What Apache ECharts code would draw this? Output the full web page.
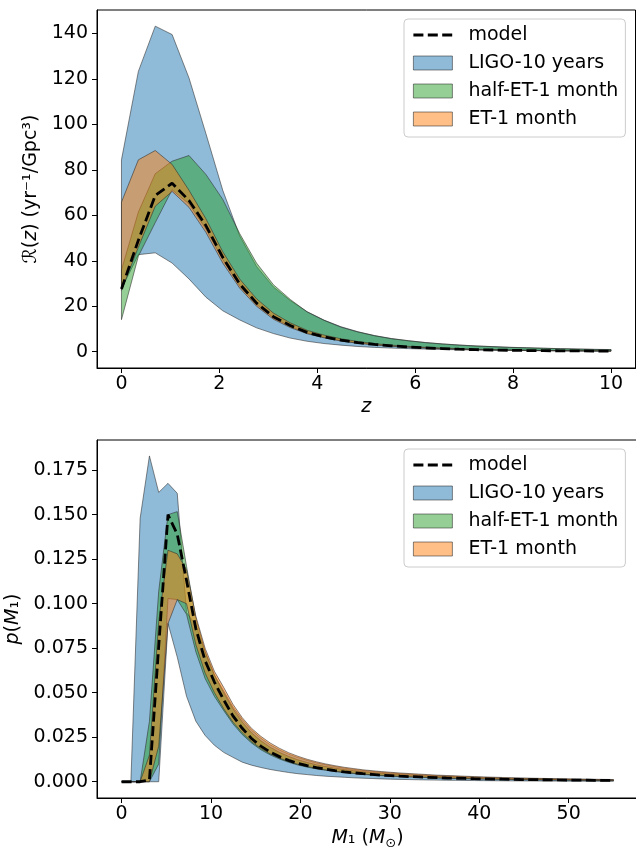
<!DOCTYPE html>
<html><head><meta charset="utf-8">
<script src="https://cdn.jsdelivr.net/npm/echarts@6/dist/echarts.min.js"></script>
<style>html,body{margin:0;padding:0;background:#fff}#c{width:636px;height:847px}</style>
</head><body><div id="c"></div>
<script>
// ---------- top panel: merger rate vs redshift ----------
const zGrid = [0, 0.345, 0.69, 1.034, 1.379, 1.724, 2.069, 2.414, 2.759, 3.103, 3.448, 3.793, 4.138, 4.483, 4.828, 5.172, 5.517, 5.862, 6.207, 6.552, 6.897, 7.241, 7.586, 7.931, 8.276, 8.621, 8.966, 9.31, 9.655, 10];
const rateModel = [27.6, 49, 68.7, 74.1, 66.5, 55.5, 41.5, 29.8, 21.4, 15.4, 11.5, 8.5, 6.6, 5.1, 4.0, 3.2, 2.6, 2.1, 1.7, 1.4, 1.1, 0.9, 0.75, 0.63, 0.54, 0.46, 0.4, 0.35, 0.3, 0.26];
const rateLigoHi = [84.4, 123.3, 143.2, 139.5, 120.4, 96, 71, 51, 37.5, 28.5, 22.5, 17.6, 13.9, 11, 8.8, 7.1, 5.8, 4.85, 4.05, 3.45, 2.95, 2.55, 2.25, 1.95, 1.75, 1.55, 1.35, 1.2, 1.05, 0.95];
const rateLigoLo = [27.6, 42.7, 43.5, 39, 32, 24, 18, 14, 10.5, 8, 6, 4.6, 3.6, 2.9, 2.3, 1.9, 1.6, 1.35, 1.15, 1.0, 0.85, 0.75, 0.65, 0.58, 0.5, 0.45, 0.4, 0.36, 0.32, 0.29];
const rateHalfHi = [36, 61.4, 78.3, 83.8, 86.3, 78, 67, 52, 39, 29.5, 23, 17.5, 13.8, 10.8, 8.7, 7.0, 5.7, 4.8, 4.0, 3.4, 2.9, 2.5, 2.2, 1.9, 1.7, 1.5, 1.3, 1.15, 1.0, 0.9];
const rateHalfLo = [14.1, 42, 56.8, 71.2, 65, 54, 40.5, 29, 20.8, 15, 11.1, 8.2, 6.3, 4.9, 3.85, 3.1, 2.5, 2.05, 1.7, 1.4, 1.15, 0.95, 0.8, 0.68, 0.58, 0.5, 0.43, 0.37, 0.32, 0.28];
const rateEtHi = [65.8, 84.4, 88.5, 82.4, 71, 58.5, 44, 32, 23.3, 17, 12.7, 9.4, 7.3, 5.7, 4.5, 3.55, 2.9, 2.35, 1.95, 1.63, 1.35, 1.12, 0.95, 0.8, 0.68, 0.58, 0.5, 0.44, 0.38, 0.33];
const rateEtLo = [27, 46, 64, 70.5, 63.5, 52.5, 39, 28, 20, 14.3, 10.6, 7.9, 6.1, 4.7, 3.7, 3.0, 2.4, 1.95, 1.6, 1.32, 1.08, 0.9, 0.76, 0.64, 0.55, 0.47, 0.41, 0.35, 0.3, 0.26];
const zTicks = [0, 2, 4, 6, 8, 10];
const rateTicks = [0, 20, 40, 60, 80, 100, 120, 140];

// ---------- bottom panel: primary mass distribution ----------
const mGrid = [0, 1.038, 2.075, 3.113, 4.151, 5.189, 6.226, 7.264, 8.302, 9.34, 10.377, 11.415, 12.453, 13.491, 14.528, 15.566, 16.604, 17.642, 18.679, 19.717, 20.755, 21.792, 22.83, 23.868, 24.906, 25.943, 26.981, 28.019, 29.057, 30.094, 31.132, 32.17, 33.208, 34.245, 35.283, 36.321, 37.358, 38.396, 39.434, 40.472, 41.509, 42.547, 43.585, 44.623, 45.66, 46.698, 47.736, 48.774, 49.811, 50.849, 51.887, 52.925, 53.962, 55];
const pModel = [0, 0, 0, 0.001, 0.076, 0.150, 0.139, 0.113, 0.086, 0.068, 0.056, 0.046, 0.037, 0.030, 0.0243, 0.0200, 0.0167, 0.0141, 0.0120, 0.0103, 0.0090, 0.0079, 0.0070, 0.0062, 0.0055, 0.0050, 0.0045, 0.0041, 0.0037, 0.0034, 0.0031, 0.0029, 0.0027, 0.0025, 0.0023, 0.0021, 0.00197, 0.00184, 0.00172, 0.00161, 0.00151, 0.00142, 0.00134, 0.00126, 0.00119, 0.00112, 0.00106, 0.001, 0.00095, 0.0009, 0.00085, 0.00081, 0.00077, 0.00073];
const pLigoHi = [0, 0, 0.148, 0.183, 0.1625, 0.1676, 0.162, 0.095, 0.088, 0.073, 0.060, 0.051, 0.042, 0.035, 0.029, 0.0245, 0.0208, 0.0179, 0.0155, 0.0136, 0.0120, 0.0106, 0.0095, 0.0085, 0.0076, 0.0069, 0.0063, 0.0058, 0.0053, 0.0049, 0.0045, 0.0042, 0.0039, 0.0036, 0.0034, 0.0032, 0.0030, 0.0028, 0.0026, 0.00245, 0.0023, 0.00215, 0.00203, 0.00191, 0.0018, 0.0017, 0.00161, 0.00152, 0.00144, 0.00137, 0.0013, 0.00123, 0.00117, 0.00111];
const pLigoLo = [0, 0, 0, 0, 0, 0.089, 0.070, 0.048, 0.034, 0.026, 0.0205, 0.0165, 0.0137, 0.011, 0.0093, 0.008, 0.0069, 0.006, 0.0052, 0.0045, 0.0040, 0.0035, 0.0031, 0.0028, 0.0025, 0.0022, 0.0020, 0.0018, 0.0016, 0.00145, 0.0013, 0.0012, 0.0011, 0.0010, 0.00092, 0.00085, 0.00078, 0.00072, 0.00066, 0.00061, 0.00056, 0.00052, 0.00048, 0.00045, 0.00042, 0.00039, 0.00036, 0.00034, 0.00032, 0.0003, 0.00028, 0.00026, 0.00025, 0.00024];
const pHalfHi = [0, 0, 0, 0.034, 0.107, 0.150, 0.1517, 0.121, 0.092, 0.073, 0.060, 0.050, 0.041, 0.0335, 0.0275, 0.0230, 0.0194, 0.0165, 0.0142, 0.0123, 0.0108, 0.0095, 0.0085, 0.0076, 0.0068, 0.0062, 0.0056, 0.0051, 0.0047, 0.0043, 0.0040, 0.0037, 0.0034, 0.0032, 0.0030, 0.0028, 0.0026, 0.0024, 0.00225, 0.0021, 0.00197, 0.00185, 0.00174, 0.00164, 0.00155, 0.00146, 0.00138, 0.0013, 0.00123, 0.00117, 0.00111, 0.00105, 0.001, 0.00095];
const pHalfLo = [0, 0, 0, 0, 0.01, 0.1029, 0.1023, 0.094, 0.073, 0.058, 0.048, 0.040, 0.0325, 0.0265, 0.0218, 0.0180, 0.0151, 0.0128, 0.0109, 0.0094, 0.0082, 0.0072, 0.0064, 0.0057, 0.0051, 0.0046, 0.0041, 0.0037, 0.0034, 0.0031, 0.0029, 0.0027, 0.0025, 0.0023, 0.0021, 0.0019, 0.0018, 0.00168, 0.00157, 0.00147, 0.00138, 0.0013, 0.00122, 0.00115, 0.00108, 0.00102, 0.00097, 0.00091, 0.00086, 0.00082, 0.00078, 0.00074, 0.0007, 0.00066];
const pEtHi = [0, 0, 0, 0.015, 0.09, 0.130, 0.128, 0.119, 0.093, 0.075, 0.062, 0.053, 0.0435, 0.036, 0.030, 0.0255, 0.0218, 0.0188, 0.0163, 0.0143, 0.0126, 0.0112, 0.0100, 0.0090, 0.0081, 0.0074, 0.0067, 0.0062, 0.0057, 0.0053, 0.0049, 0.0046, 0.0043, 0.0040, 0.0037, 0.0035, 0.0033, 0.0031, 0.0029, 0.0027, 0.00255, 0.0024, 0.00226, 0.00213, 0.00201, 0.0019, 0.0018, 0.0017, 0.00161, 0.00153, 0.00145, 0.00138, 0.00131, 0.00125];
const pEtLo = [0, 0, 0, 0, 0.02, 0.0888, 0.1023, 0.100, 0.077, 0.061, 0.050, 0.041, 0.0335, 0.0275, 0.0225, 0.0187, 0.0157, 0.0133, 0.0114, 0.0098, 0.0086, 0.0075, 0.0067, 0.0059, 0.0053, 0.0048, 0.0043, 0.0039, 0.0036, 0.0033, 0.0030, 0.0028, 0.0026, 0.0024, 0.0022, 0.0020, 0.0019, 0.00178, 0.00166, 0.00155, 0.00145, 0.00137, 0.00129, 0.00121, 0.00114, 0.00108, 0.00102, 0.00096, 0.00091, 0.00086, 0.00082, 0.00078, 0.00074, 0.0007];
const mTicks = [0, 10, 20, 30, 40, 50];
const pTicks = [0, 0.025, 0.05, 0.075, 0.1, 0.125, 0.15, 0.175];

const seriesNames = ['model', 'LIGO-10 years', 'half-ET-1 month', 'ET-1 month'];

// ---------- styling ----------
const FONT = 'DejaVu Sans';
const FS = 19;
const EDGE = 'rgba(40,40,40,0.55)';
const C_LIGO = 'rgba(31,119,180,0.5)';
const C_HALF = 'rgba(44,160,44,0.5)';
const C_ET = 'rgba(255,127,14,0.5)';
const DASH = [10, 4.4];

const chart = echarts.init(document.getElementById('c'), null, {renderer: 'canvas'});

function band(name, gi, xs, lo, hi, color, z) {
  return {
    type: 'custom', name: name, xAxisIndex: gi, yAxisIndex: gi, z: z, silent: true,
    data: xs.map((x, i) => [x, lo[i], hi[i]]),
    encode: {x: 0, y: [1, 2]},
    itemStyle: {color: color, borderColor: EDGE, borderWidth: 1},
    renderItem: function (params, api) {
      if (params.dataIndex !== 0) return null;
      const pts = [];
      for (let i = 0; i < xs.length; i++) pts.push(api.coord([xs[i], hi[i]]));
      for (let i = xs.length - 1; i >= 0; i--) pts.push(api.coord([xs[i], lo[i]]));
      return {type: 'polygon', shape: {points: pts}, style: {fill: color, stroke: EDGE, lineWidth: 1}};
    }
  };
}
function modelLine(gi, xs, ys) {
  return {
    type: 'line', name: seriesNames[0], xAxisIndex: gi, yAxisIndex: gi, z: 5, silent: true,
    data: xs.map((x, i) => [x, ys[i]]), symbol: 'none', animation: false,
    lineStyle: {color: '#000', width: 2.8, type: DASH}
  };
}
function legend(top) {
  return {
    orient: 'vertical', left: 404, top: top, itemWidth: 39, itemHeight: 14, itemGap: 9,
    padding: [6.5, 7, 8.5, 8], backgroundColor: 'rgba(255,255,255,0.8)',
    borderColor: '#cccccc', borderWidth: 1, borderRadius: 4, selectedMode: false,
    textStyle: {fontFamily: FONT, fontSize: FS, color: '#000', padding: [0, 0, 0, 11]},
    data: [
      {name: seriesNames[0], itemStyle: {color: 'rgba(0,0,0,0)', borderColor: 'rgba(0,0,0,0)', borderWidth: 0},
       lineStyle: {color: '#000', width: 2.8, type: DASH}},
      {name: seriesNames[1], icon: 'rect', itemStyle: {color: C_LIGO, borderColor: EDGE, borderWidth: 1}},
      {name: seriesNames[2], icon: 'rect', itemStyle: {color: C_HALF, borderColor: EDGE, borderWidth: 1}},
      {name: seriesNames[3], icon: 'rect', itemStyle: {color: C_ET, borderColor: EDGE, borderWidth: 1}}
    ]
  };
}
function xAxis(gi, min, max, ticks, name, gap) {
  return {
    type: 'value', gridIndex: gi, min: min, max: max,
    axisLine: {show: true, onZero: false, lineStyle: {color: '#000', width: 1}},
    axisTick: {show: true, length: 5, customValues: ticks, lineStyle: {color: '#000', width: 1}},
    axisLabel: {customValues: ticks, fontFamily: FONT, fontSize: FS, color: '#000', margin: 7},
    splitLine: {show: false},
    name: name, nameLocation: 'middle', nameGap: gap,
    nameTextStyle: {fontFamily: FONT, fontSize: FS, color: '#000',
      rich: {i: {fontFamily: FONT, fontSize: FS, fontStyle: 'italic', color: '#000'},
             s: {fontFamily: FONT, fontSize: 13, color: '#000', padding: [10, 0, 0, 0]}}}
  };
}
function yAxis(gi, min, max, ticks, fmt, name, gap) {
  return {
    type: 'value', gridIndex: gi, min: min, max: max,
    axisLine: {show: true, onZero: false, lineStyle: {color: '#000', width: 1}},
    axisTick: {show: true, length: 5, customValues: ticks, lineStyle: {color: '#000', width: 1}},
    axisLabel: {customValues: ticks, formatter: fmt, fontFamily: FONT, fontSize: FS, color: '#000', margin: 9},
    splitLine: {show: false},
    name: name, nameLocation: 'middle', nameRotate: 90, nameGap: gap,
    nameTextStyle: {fontFamily: FONT, fontSize: FS, color: '#000',
      rich: {i: {fontFamily: FONT, fontSize: FS, fontStyle: 'italic', color: '#000'}}}
  };
}

const option = {
  animation: false,
  backgroundColor: '#fff',
  grid: [
    {left: 97, top: 10, width: 538.5, height: 358, show: true, borderColor: '#000', borderWidth: 1,
     backgroundColor: 'transparent', containLabel: false, outerBoundsMode: 'none'},
    {left: 97, top: 440, width: 541, height: 358, show: true, borderColor: '#000', borderWidth: 1,
     backgroundColor: 'transparent', containLabel: false, outerBoundsMode: 'none'}
  ],
  legend: [legend(19), legend(449)],
  xAxis: [
    xAxis(0, -0.5, 10.5, zTicks, '{i|z}', 30),
    xAxis(1, -2.75, 57.75, mTicks, '{i|M}₁ ({i|M}{s|⊙})', 29)
  ],
  yAxis: [
    yAxis(0, -7.16, 150.3, rateTicks, v => String(v), '{i|ℛ}({i|z}) (yr⁻¹/Gpc³)', 51),
    yAxis(1, -0.00914, 0.19194, pTicks, v => v.toFixed(3), '{i|p}({i|M}₁)', 69)
  ],
  series: [
    band(seriesNames[1], 0, zGrid, rateLigoLo, rateLigoHi, C_LIGO, 2),
    band(seriesNames[2], 0, zGrid, rateHalfLo, rateHalfHi, C_HALF, 3),
    band(seriesNames[3], 0, zGrid, rateEtLo, rateEtHi, C_ET, 4),
    modelLine(0, zGrid, rateModel),
    band(seriesNames[1], 1, mGrid, pLigoLo, pLigoHi, C_LIGO, 2),
    band(seriesNames[2], 1, mGrid, pHalfLo, pHalfHi, C_HALF, 3),
    band(seriesNames[3], 1, mGrid, pEtLo, pEtHi, C_ET, 4),
    modelLine(1, mGrid, pModel)
  ]
};
chart.setOption(option);
</script>
</body></html>
